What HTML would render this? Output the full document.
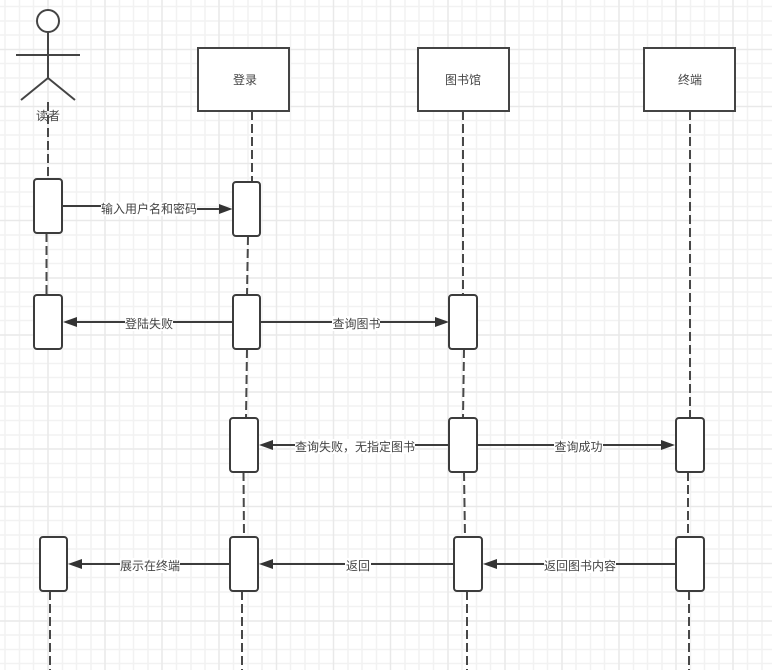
<!DOCTYPE html>
<html lang="zh">
<head>
<meta charset="utf-8">
<title>时序图</title>
<style>
html,body{margin:0;padding:0;background:#fff;}
svg{display:block;}
text{font-family:"Liberation Sans","Noto Sans CJK SC",sans-serif;font-size:12px;fill:#444;text-anchor:middle;}
.ll{stroke:#484848;stroke-width:2;stroke-dasharray:9 4;fill:none;}
.ln{stroke:#3c3c3c;stroke-width:2;fill:none;}
.bx{stroke:#444;stroke-width:2;fill:#fff;}
.ac{stroke:#3c3c3c;stroke-width:2;fill:#fff;}
.ah{fill:#333;stroke:none;}
.lb{fill:#fff;stroke:none;}
</style>
</head>
<body>
<svg width="772" height="670" viewBox="0 0 772 670" xmlns="http://www.w3.org/2000/svg">
<rect width="772" height="670" fill="#fff"/>
<!-- minor grid -->
<path fill="none" stroke="#f2f2f2" stroke-width="1.500" d="M5 0V670M19.500 0V670M33.500 0V670M62.500 0V670M76.500 0V670M91 0V670M119.500 0V670M133.500 0V670M148 0V670M176.500 0V670M191 0V670M205 0V670M233.500 0V670M248 0V670M262 0V670M290.500 0V670M305 0V670M319 0V670M348 0V670M362 0V670M376.500 0V670M405 0V670M419 0V670M433.500 0V670M462 0V670M476.500 0V670M490.500 0V670M519 0V670M533.500 0V670M547.500 0V670M576 0V670M590.500 0V670M604.500 0V670M633.500 0V670M647.500 0V670M662 0V670M690.500 0V670M704.500 0V670M719 0V670M747.500 0V670M762 0V670
M0 6.500H772M0 21H772M0 35H772M0 63.500H772M0 78H772M0 92H772M0 120.500H772M0 135H772M0 149H772M0 178H772M0 192H772M0 206.500H772M0 235H772M0 249.500H772M0 263.500H772M0 292H772M0 306.500H772M0 320.500H772M0 349H772M0 363.500H772M0 377.500H772M0 406H772M0 420.500H772M0 435H772M0 463.500H772M0 477.500H772M0 492H772M0 520.500H772M0 535H772M0 549H772M0 577.500H772M0 592H772M0 606.500H772M0 635H772M0 649.500H772M0 663.500H772"/>
<!-- major grid -->
<path fill="none" stroke="#e9e9e9" stroke-width="1.500" d="M48 0V670M105 0V670M162 0V670M219 0V670M276.500 0V670M333.500 0V670M390.500 0V670M448 0V670M505 0V670M562 0V670M619 0V670M676 0V670M733 0V670
M0 49.500H772M0 106.500H772M0 163.500H772M0 220.500H772M0 278H772M0 335H772M0 392H772M0 449H772M0 506.500H772M0 563.500H772M0 621H772"/>

<!-- lifelines -->
<path class="ll" d="M48 102V179"/>
<path class="ll" d="M46.500 233V295"/>
<path class="ll" d="M50 591V670"/>
<path class="ll" d="M252 111V182"/>
<path class="ll" d="M248 236L247 295"/>
<path class="ll" d="M247 349L246 418"/>
<path class="ll" d="M243.500 472L244 537"/>
<path class="ll" d="M242 591V670"/>
<path class="ll" d="M463 111V295"/>
<path class="ll" d="M464 349L463 418"/>
<path class="ll" d="M464 472L465 537"/>
<path class="ll" d="M467 591V670"/>
<path class="ll" d="M690 111V418"/>
<path class="ll" d="M688 472V537"/>
<path class="ll" d="M689 591V670"/>

<!-- actor -->
<circle class="bx" cx="48" cy="21" r="11"/>
<path class="ln" style="stroke:#444" d="M48 32V78M16 55H80M21 100L48 78L75 100"/>
<text x="48" y="120">读者</text>

<!-- header boxes -->
<rect class="bx" x="198" y="48" width="91" height="63"/>
<text x="245" y="84">登录</text>
<rect class="bx" x="418" y="48" width="91" height="63"/>
<text x="463" y="84">图书馆</text>
<rect class="bx" x="644" y="48" width="91" height="63"/>
<text x="690" y="84">终端</text>

<!-- messages -->
<path class="ln" d="M63 206H148V209H220"/>
<polygon class="ah" points="232.500,209 219,204 219,214"/>
<rect class="lb" x="101" y="202" width="96" height="14"/>
<text x="149" y="213">输入用户名和密码</text>

<path class="ln" d="M233 322H76"/>
<polygon class="ah" points="63,322 77,317 77,327"/>
<rect class="lb" x="125" y="316" width="48" height="15"/>
<text x="149" y="328">登陆失败</text>

<path class="ln" d="M261 322H436"/>
<polygon class="ah" points="449,322 435,317 435,327"/>
<rect class="lb" x="332" y="316" width="48" height="15"/>
<text x="356.500" y="328">查询图书</text>

<path class="ln" d="M449 445H272"/>
<polygon class="ah" points="259,445 273,440 273,450"/>
<rect class="lb" x="295" y="439" width="120" height="15"/>
<text x="355" y="451">查询失败，无指定图书</text>

<path class="ln" d="M477 445H663"/>
<polygon class="ah" points="675,445 661,440 661,450"/>
<rect class="lb" x="554" y="439" width="49" height="15"/>
<text x="578.500" y="451">查询成功</text>

<path class="ln" d="M230 564H81"/>
<polygon class="ah" points="68,564 82,559 82,569"/>
<rect class="lb" x="120" y="558" width="60" height="15"/>
<text x="150" y="570">展示在终端</text>

<path class="ln" d="M454 564H272"/>
<polygon class="ah" points="259,564 273,559 273,569"/>
<rect class="lb" x="345" y="558" width="26" height="15"/>
<text x="358" y="570">返回</text>

<path class="ln" d="M676 564H496"/>
<polygon class="ah" points="483,564 497,559 497,569"/>
<rect class="lb" x="544" y="558" width="72" height="15"/>
<text x="580" y="570">返回图书内容</text>

<!-- activations -->
<rect class="ac" x="34" y="179" width="28" height="54" rx="3"/>
<rect class="ac" x="233" y="182" width="27" height="54" rx="3"/>
<rect class="ac" x="34" y="295" width="28" height="54" rx="3"/>
<rect class="ac" x="233" y="295" width="27" height="54" rx="3"/>
<rect class="ac" x="449" y="295" width="28" height="54" rx="3"/>
<rect class="ac" x="230" y="418" width="28" height="54" rx="3"/>
<rect class="ac" x="449" y="418" width="28" height="54" rx="3"/>
<rect class="ac" x="676" y="418" width="28" height="54" rx="3"/>
<rect class="ac" x="40" y="537" width="27" height="54" rx="3"/>
<rect class="ac" x="230" y="537" width="28" height="54" rx="3"/>
<rect class="ac" x="454" y="537" width="28" height="54" rx="3"/>
<rect class="ac" x="676" y="537" width="28" height="54" rx="3"/>
</svg>
</body>
</html>
